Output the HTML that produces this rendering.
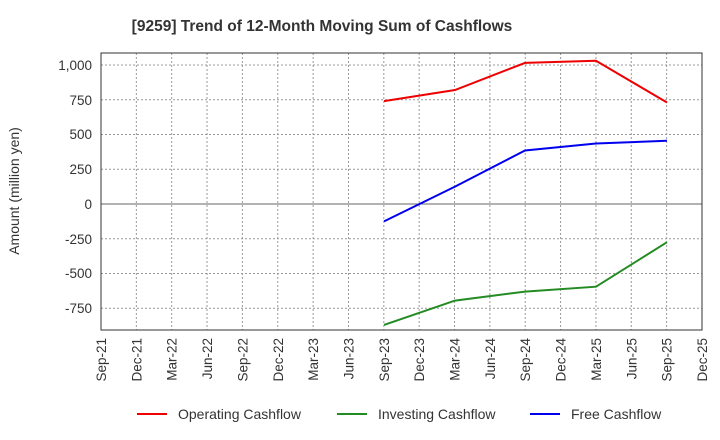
<!DOCTYPE html>
<html><head><meta charset="utf-8"><style>body{margin:0;background:#fff}svg{display:block;font-family:"Liberation Sans",sans-serif}</style></head><body>
<svg width="720" height="440" viewBox="0 0 720 440" xmlns="http://www.w3.org/2000/svg">
<text x="322" y="31" text-anchor="middle" font-size="15.5" font-weight="bold" fill="#333">[9259]  Trend of 12-Month Moving Sum of Cashflows</text>
<g stroke="#999" stroke-width="1" stroke-dasharray="2,2">
<line x1="101" x2="702" y1="65" y2="65"/><line x1="101" x2="702" y1="99.8" y2="99.8"/><line x1="101" x2="702" y1="134.5" y2="134.5"/><line x1="101" x2="702" y1="169.3" y2="169.3"/><line x1="101" x2="702" y1="238.8" y2="238.8"/><line x1="101" x2="702" y1="273.5" y2="273.5"/><line x1="101" x2="702" y1="308.3" y2="308.3"/>
</g>
<g stroke="#999" stroke-width="1" stroke-dasharray="2,2" id="vg"></g>
<line x1="101" x2="702" y1="204" y2="204" stroke="#666" stroke-width="1"/>
<rect x="101" y="53" width="601" height="277" fill="none" stroke="#333" stroke-width="1"/>
<g font-size="13.5" fill="#333" text-anchor="end">
<text x="92" y="70">1,000</text><text x="92" y="105">750</text><text x="92" y="139">500</text><text x="92" y="174">250</text><text x="92" y="209">0</text><text x="92" y="244">-250</text><text x="92" y="278">-500</text><text x="92" y="313">-750</text>
</g>
<text transform="translate(19,191) rotate(-90)" text-anchor="middle" font-size="14" fill="#333">Amount (million yen)</text>
<g id="xl" font-size="13.5" fill="#333" text-anchor="end"></g>
<polyline points="384,101.1 455,90 525,62.9 596,60.8 667,102.5" fill="none" stroke="#e00" stroke-width="2"/>
<polyline points="384,324.9 455,300.6 525,291.6 596,286.7 667,242.2" fill="none" stroke="#228b22" stroke-width="2"/>
<polyline points="384,221.4 455,186.6 525,150.5 596,143.5 667,140.8" fill="none" stroke="#00e" stroke-width="2"/>
<g font-size="14" fill="#333">
<line x1="137" x2="167" y1="414" y2="414" stroke="#e00" stroke-width="2"/><text x="178" y="419">Operating Cashflow</text>
<line x1="337" x2="367" y1="414" y2="414" stroke="#228b22" stroke-width="2"/><text x="378" y="419">Investing Cashflow</text>
<line x1="530" x2="560" y1="414" y2="414" stroke="#00e" stroke-width="2"/><text x="571" y="419">Free Cashflow</text>
</g>
<script>
var L=["Sep-21","Dec-21","Mar-22","Jun-22","Sep-22","Dec-22","Mar-23","Jun-23","Sep-23","Dec-23","Mar-24","Jun-24","Sep-24","Dec-24","Mar-25","Jun-25","Sep-25","Dec-25"];
var ns="http://www.w3.org/2000/svg",vg=document.getElementById("vg"),xl=document.getElementById("xl");
for(var i=0;i<18;i++){var x=101+i*601/17;
if(i>0&&i<17){var l=document.createElementNS(ns,"line");l.setAttribute("x1",x);l.setAttribute("x2",x);l.setAttribute("y1",53);l.setAttribute("y2",330);vg.appendChild(l);}
var t=document.createElementNS(ns,"text");t.setAttribute("transform","translate("+(x+5)+",338) rotate(-90)");t.textContent=L[i];xl.appendChild(t);}
</script>
</svg>
</body></html>
